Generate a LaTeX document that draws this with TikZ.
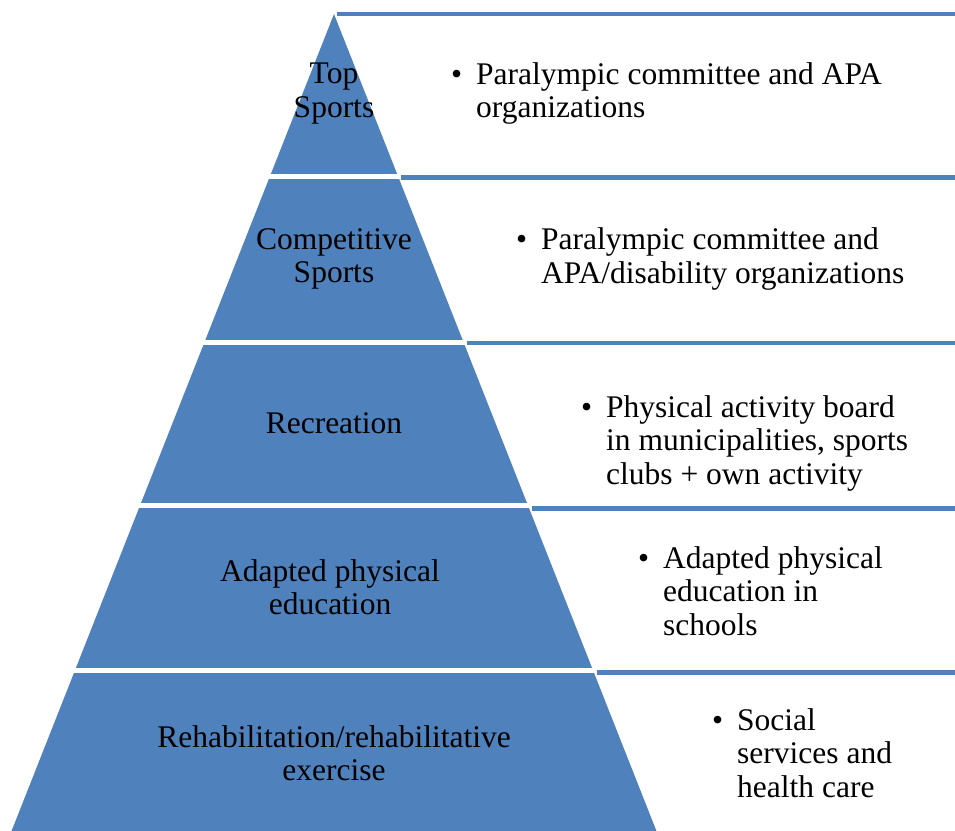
\documentclass[tikz,border=0pt]{standalone}
\usepackage{fontspec}
\setmainfont{Liberation Serif}
\definecolor{pyrblue}{HTML}{4F81BD}
\begin{document}
\begin{tikzpicture}[x=1pt,y=-1pt,
  level/.style={align=center, inner sep=0pt, font=\fontsize{31.5}{33.5}\selectfont},
  desc/.style={align=left, anchor=west, inner sep=0pt, font=\fontsize{31.5}{33.5}\selectfont},
  gap/.style={white, line width=5pt},
  band/.style={pyrblue, line width=4.5pt}]
\useasboundingbox (0,0) rectangle (955,830);
\clip (0,0) rectangle (955,830);

% pyramid
\fill[pyrblue] (334,14) -- (660,840) -- (8,840) -- cycle;
\draw[gap] (0,176.5) -- (720,176.5);
\draw[gap] (0,342) -- (720,342);
\draw[gap] (0,505.5) -- (720,505.5);
\draw[gap] (0,670) -- (720,670);

% blue rules on the right
\draw[band] (337,14) -- (955,14);
\draw[band] (401,177.5) -- (955,177.5);
\draw[band] (467,343) -- (955,343);
\draw[band] (532,508.5) -- (955,508.5);
\draw[band] (597,672.5) -- (955,672.5);

\node[level] (top) at (334,93.5) {Top\\Sports};
\node[level] (comp) at (334,259) {Competitive\\Sports};
\node[level] (recr) at (334,423) {Recreation};
\node[level] (adapt) at (330,587) {Adapted physical\\education};
\node[level] (rehab) at (334,753) {Rehabilitation/rehabilitative\\exercise};

\node[desc] (topTxt) at (476,93.5) {\llap{\textbullet\hspace{14pt}}Paralympic committee and APA\\organizations};
\node[desc] (compTxt) at (541,259) {\llap{\textbullet\hspace{14pt}}Paralympic committee and\\APA/disability organizations};
\node[desc] (recrTxt) at (606,443) {\llap{\textbullet\hspace{14pt}}Physical activity board\\in municipalities, sports\\clubs + own activity};
\node[desc] (adaptTxt) at (663,591) {\llap{\textbullet\hspace{14pt}}Adapted physical\\education in\\schools};
\node[desc] (rehabTxt) at (737,753) {\llap{\textbullet\hspace{14pt}}Social\\services and\\health care};
\end{tikzpicture}
\end{document}
